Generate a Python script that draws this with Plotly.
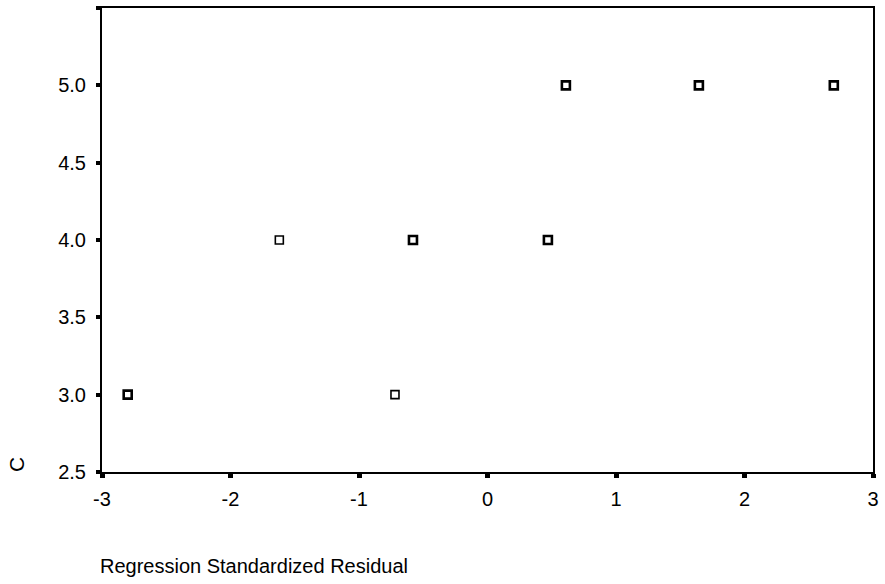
import plotly.graph_objects as go

residuals = [-2.80, -1.62, -0.72, -0.58, 0.47, 0.61, 1.645, 2.695]
c_values = [3.0, 4.0, 3.0, 4.0, 4.0, 5.0, 5.0, 5.0]
counts = [2, 1, 1, 2, 2, 2, 2, 2]

x_ticks = [-3, -2, -1, 0, 1, 2, 3]
y_ticks = [2.5, 3.0, 3.5, 4.0, 4.5, 5.0, 5.5]
y_labels = ["2.5", "3.0", "3.5", "4.0", "4.5", "5.0", "5.5"]

fig = go.Figure()
fig.add_trace(go.Scatter(
    x=residuals, y=c_values, mode="markers",
    marker=dict(symbol="square-open", size=8, color="black",
                line=dict(color="black", width=[1.6 if n == 1 else 2.6 for n in counts])),
    hoverinfo="x+y", showlegend=False,
))

font = "Liberation Sans, Arial, sans-serif"
fig.update_layout(
    width=885, height=584,
    margin=dict(l=102, r=6, t=7, b=112),
    paper_bgcolor="white", plot_bgcolor="white",
    font=dict(family=font, color="black", size=20),
    xaxis=dict(range=[-3, 3], tickvals=x_ticks, ticktext=[str(v) for v in x_ticks],
               showgrid=False, zeroline=False, showline=True, linecolor="black",
               linewidth=2, mirror=True, ticks="outside", ticklen=4, tickwidth=5,
               tickcolor="black", ticklabelstandoff=4, tickfont=dict(size=20)),
    yaxis=dict(range=[2.5, 5.5], tickvals=y_ticks, ticktext=y_labels,
               showgrid=False, zeroline=False, showline=True, linecolor="black",
               linewidth=2, mirror=True, ticks="outside", ticklen=4, tickwidth=4,
               tickcolor="black", ticklabelstandoff=6, tickfont=dict(size=20)),
    annotations=[
        dict(text="Regression Standardized Residual", xref="paper", yref="paper",
             x=-0.0, y=0, xanchor="left", yanchor="middle", yshift=-94, xshift=-4,
             showarrow=False, font=dict(size=20, family=font)),
        dict(text="C", xref="paper", yref="paper", x=0, y=0, xshift=-86, yshift=7,
             textangle=-90, xanchor="center", yanchor="middle",
             showarrow=False, font=dict(size=21, family=font)),
    ],
)

fig.write_html("out.html", config={"displayModeBar": False},
               post_script="document.body.style.margin='0';")
